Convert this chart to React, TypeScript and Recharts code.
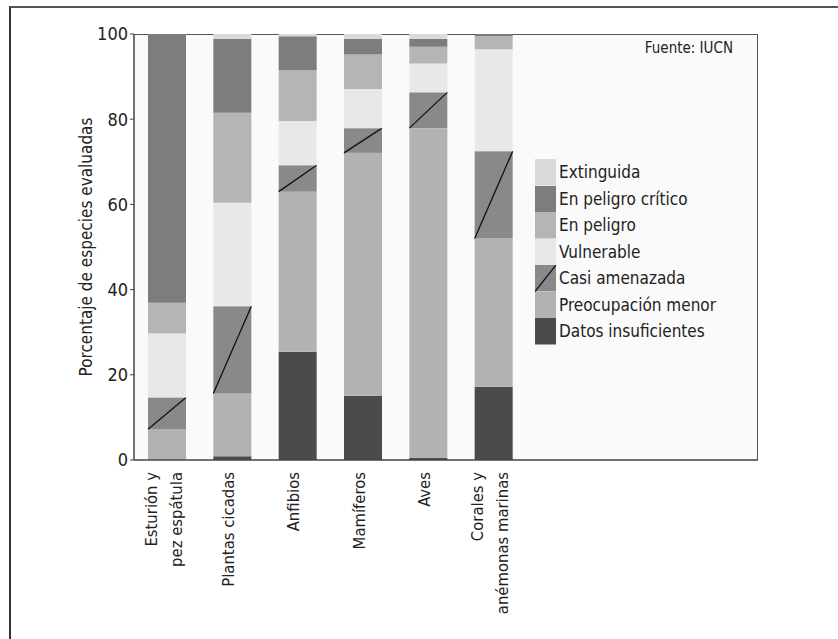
import { Bar, BarChart, Legend, XAxis, YAxis } from "recharts";

const categories = ["Esturión y\npez espátula", "Plantas cicadas", "Anfibios", "Mamíferos", "Aves", "Corales y\nanémonas marinas"];
const datosInsuficientes = [0, 0.9, 25.4, 15.1, 0.5, 17.2];
const preocupacionMenor = [7.2, 14.7, 37.6, 57.0, 77.4, 34.8];
const casiAmenazada = [7.5, 20.5, 6.2, 5.8, 8.4, 20.5];
const vulnerable = [15.0, 24.3, 10.4, 9.2, 6.8, 23.9];
const enPeligro = [7.2, 21.1, 11.9, 8.1, 3.9, 3.1];
const enPeligroCritico = [63.1, 17.4, 8.0, 3.6, 1.8, 0.5];
const extinguida = [0, 1.1, 0.5, 1.2, 1.2, 0];
const yTicks = [0, 20, 40, 60, 80, 100];

const series = [
  { key: "di", name: "Datos insuficientes", values: datosInsuficientes, color: "#4b4b4d" },
  { key: "pm", name: "Preocupación menor", values: preocupacionMenor, color: "#b1b2b4" },
  { key: "ca", name: "Casi amenazada", values: casiAmenazada, color: "#88898b", hatch: true },
  { key: "vu", name: "Vulnerable", values: vulnerable, color: "#e7e8e9" },
  { key: "ep", name: "En peligro", values: enPeligro, color: "#b4b5b7" },
  { key: "cr", name: "En peligro crítico", values: enPeligroCritico, color: "#7c7d7f" },
  { key: "ex", name: "Extinguida", values: extinguida, color: "#d9dadc" },
];

const data = categories.map((name, i) => {
  const row: Record<string, string | number> = { name };
  series.forEach((s) => (row[s.key] = s.values[i]));
  return row;
});

const font = "'DejaVu Sans Condensed', 'Open Sans', sans-serif";

function HatchBar(props: any) {
  const { x, y, width, height, fill } = props;
  if (!height || height <= 0) return null;
  return (
    <g>
      <rect x={x} y={y} width={width} height={height} fill={fill} />
      <line x1={x} y1={y + height} x2={x + width} y2={y} stroke="#111" strokeWidth={1.3} />
    </g>
  );
}

function CategoryTick({ x, y, payload }: any) {
  const lines = String(payload.value).split("\n");
  const offsets = lines.length === 1 ? [2] : [-10, 15];
  return (
    <g transform={`translate(${x},${y})`}>
      <text transform="rotate(-90)" textAnchor="end" fontSize={16.5} fill="#222" fontFamily={font}>
        {lines.map((l, i) => (
          <tspan key={i} x={0} y={offsets[i]}>{l}</tspan>
        ))}
      </text>
    </g>
  );
}

function LegendBox() {
  return (
    <div style={{ fontFamily: font, fontSize: 17, color: "#222" }}>
      {[...series].reverse().map((s) => (
        <div key={s.key} style={{ display: "flex", alignItems: "center", height: 26.5 }}>
          <svg width={21} height={26.5} style={{ display: "block" }}>
            <rect width={21} height={26.5} fill={s.color} />
            {s.hatch && <line x1={0} y1={26.5} x2={21} y2={0} stroke="#111" strokeWidth={1.3} />}
          </svg>
          <span style={{ marginLeft: 3, lineHeight: "26.5px" }}>{s.name}</span>
        </div>
      ))}
    </div>
  );
}

export default function App() {
  return (
    <div style={{ position: "absolute", left: 0, top: 0, width: 838, height: 639, background: "#fff" }}>
      <div style={{ position: "absolute", left: 9, top: 6, right: 0, bottom: 0, borderTop: "2px solid #555", borderLeft: "2px solid #333" }} />
      <div style={{ position: "absolute", left: 134, top: 34, width: 624, height: 426, background: "#fafafa", borderTop: "1.5px solid #555", borderRight: "1.5px solid #555", boxSizing: "border-box" }} />
      <div style={{ position: "absolute", left: 600, top: 39, width: 133, textAlign: "right", fontFamily: font, fontSize: 15, color: "#222" }}>Fuente: IUCN</div>
      <div style={{ position: "absolute", left: 0, top: 0 }}>
        <BarChart width={838} height={639} data={data} margin={{ top: 34, right: 80, bottom: 0, left: 74 }}>
          <XAxis
            dataKey="name"
            interval={0}
            height={179}
            padding={{ left: 0, right: 232 }}
            axisLine={{ stroke: "#444", strokeWidth: 1.5 }}
            tickLine={false}
            tickSize={6}
            tickMargin={6}
            tick={<CategoryTick />}
          />
          <YAxis
            domain={[0, 100]}
            ticks={yTicks}
            width={60}
            axisLine={{ stroke: "#444", strokeWidth: 1.5 }}
            tickLine={{ stroke: "#444" }}
            tickSize={4}
            tickMargin={2}
            tick={{ fontSize: 18, fill: "#222", fontFamily: font }}
            label={{ value: "Porcentaje de especies evaluadas", angle: -90, position: "insideLeft", offset: 12, style: { textAnchor: "middle", fontSize: 17, fill: "#222", fontFamily: font } }}
          />
          <Legend layout="vertical" align="center" verticalAlign="middle" wrapperStyle={{ left: 535, top: 159, width: 220 }} content={<LegendBox />} />
          {series.map((s) => (
            <Bar
              key={s.key}
              dataKey={s.key}
              name={s.name}
              stackId="a"
              fill={s.color}
              barSize={38}
              isAnimationActive={false}
              shape={s.hatch ? <HatchBar /> : undefined}
            />
          ))}
        </BarChart>
      </div>
    </div>
  );
}
